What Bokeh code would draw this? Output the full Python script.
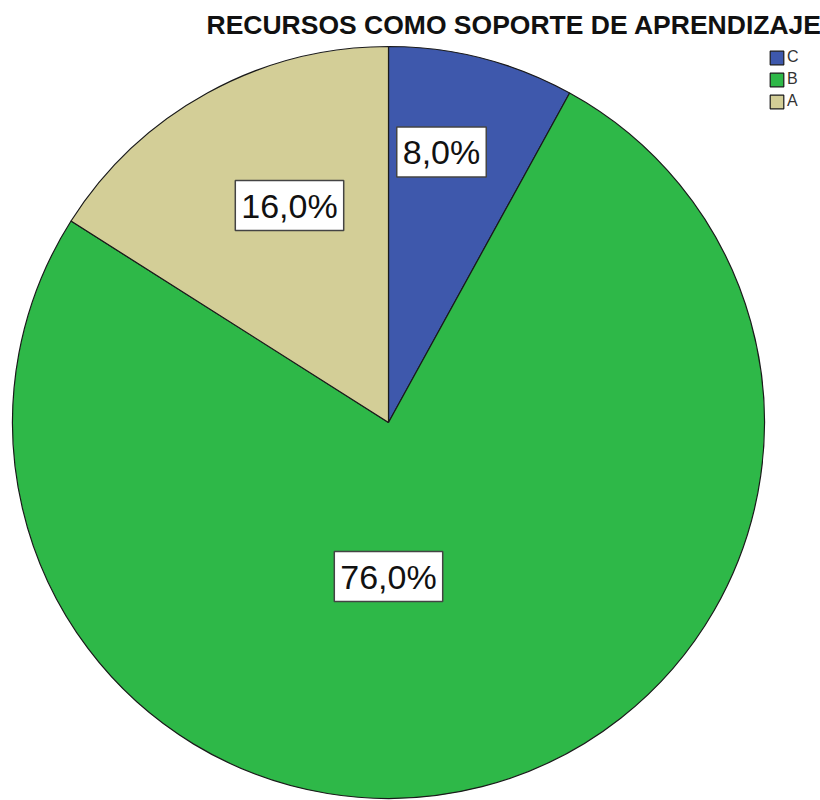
from bokeh.plotting import figure
from bokeh.models import Range1d, Label, Legend, LegendItem, ColumnDataSource
from bokeh.embed import file_html
from bokeh.resources import INLINE
import numpy as np

# ---- data ----
categories = ["C", "B", "A"]
percentages = [8.0, 76.0, 16.0]
colors = ["#3E58AC", "#2EB848", "#D3CE97"]
title_text = "RECURSOS COMO SOPORTE DE APRENDIZAJE"

# ---- layout (pixels, data units == screen px) ----
W, H = 820, 800
cx, cy, R = 388, 378, 376
label_xy = [(441, 648.5), (388, 224), (289, 595)]  # C, B, A label centres

frac = np.array(percentages) / sum(percentages)
cum = np.cumsum(frac)
start = np.pi / 2 - 2 * np.pi * (cum - frac)
end = np.pi / 2 - 2 * np.pi * cum

src = ColumnDataSource(dict(cat=categories, start=start, end=end, color=colors,
                            x=[cx] * 3, y=[cy] * 3))

p = figure(width=W, height=H, x_range=Range1d(0, W), y_range=Range1d(0, H),
           output_backend="svg", toolbar_location=None, min_border=0,
           outline_line_color=None, background_fill_color="white")
p.axis.visible = False
p.grid.visible = False

r = p.wedge(x="x", y="y", radius=R, start_angle="start", end_angle="end",
            direction="clock", fill_color="color", line_color="#1a1a1a",
            line_width=1.2, source=src)

for (lx, ly), v in zip(label_xy, percentages):
    txt = f"{v:.1f}".replace(".", ",") + "%"
    p.add_layout(Label(x=lx, y=ly, text=txt, text_align="center",
                       text_baseline="middle", text_font="Liberation Sans",
                       text_font_size="34px", text_color="#111111",
                       background_fill_color="white", border_line_color="#444444",
                       border_line_width=1.5, padding=(6, 6)))

p.add_layout(Label(x=206, y=776, text=title_text, text_align="left",
                   text_baseline="middle", text_font="Liberation Sans",
                   text_font_style="bold", text_font_size="26.5px",
                   text_color="#111111"))

legend = Legend(items=[LegendItem(label=c, renderers=[r], index=i)
                       for i, c in enumerate(categories)],
                location=(768, 690), orientation="vertical",
                glyph_width=17, glyph_height=17, label_height=17,
                spacing=4, padding=0, margin=0, label_standoff=2,
                label_text_font="Liberation Sans", label_text_font_size="16px",
                label_text_color="#333333", border_line_color=None,
                background_fill_alpha=0)
p.add_layout(legend, "center")

open("out.html", "w").write(file_html(p, INLINE))
